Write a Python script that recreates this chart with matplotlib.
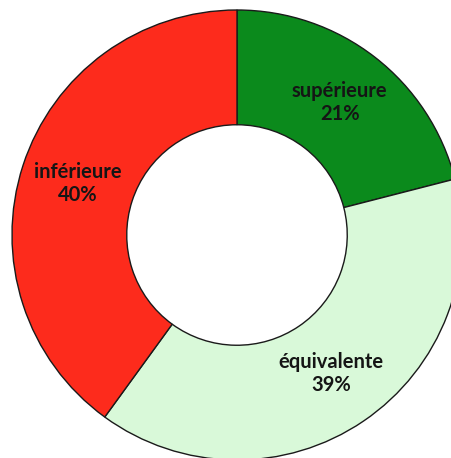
import matplotlib.pyplot as plt
import numpy as np

categories = ['supérieure', 'équivalente', 'inférieure']
values = [21, 39, 40]
colors = ['#0b8a1c', '#d9f9d9', '#fd2b1c']


def main():
    fig = plt.figure(figsize=(4.52, 4.58), dpi=100)
    # centre of ring at (237, 235) px, outer radius 225 px
    ax = fig.add_axes([12 / 452, (458 - 235 - 225) / 458, 450 / 452, 450 / 458])

    wedges, _ = ax.pie(values, colors=colors, startangle=90, counterclock=False,
                       radius=1.0,
                       wedgeprops=dict(width=0.51, edgecolor='#1a1a1a', linewidth=1.0))
    ax.set_xlim(-1, 1)
    ax.set_ylim(-1, 1)
    ax.set_aspect('equal')
    ax.axis('off')

    for w, name, v in zip(wedges, categories, values):
        ang = np.deg2rad((w.theta1 + w.theta2) / 2)
        r = 0.745
        ax.text(r * np.cos(ang), r * np.sin(ang), '{0}\n{1}%'.format(name, v),
                ha='center', va='center', fontsize=14.5, fontweight='bold',
                family='Lato', color='#151515', linespacing=1.2)

    fig.savefig('out.png', dpi=100)


if __name__ == '__main__':
    main()
